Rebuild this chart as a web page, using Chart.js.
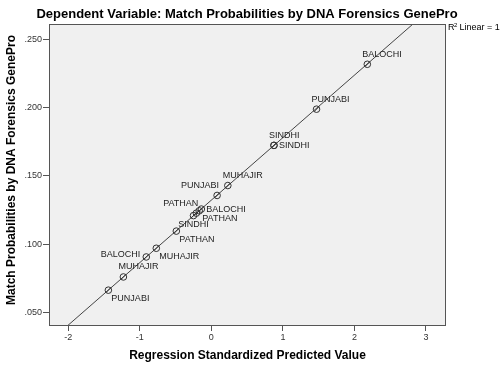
<!DOCTYPE html>
<html>
<head>
<meta charset="utf-8">
<script src="https://cdn.jsdelivr.net/npm/chart.js@4"></script>
<style>
  html, body { margin: 0; padding: 0; background: #fff; }
  #wrap { width: 500px; height: 368px; }
</style>
</head>
<body>
<div id="wrap"><canvas id="scatter" width="500" height="368"></canvas></div>
<script>
// values
const ethnicGroups = ['PUNJABI', 'MUHAJIR', 'BALOCHI', 'MUHAJIR', 'PATHAN', 'SINDHI', 'PATHAN', 'PATHAN',
  'BALOCHI', 'PUNJABI', 'MUHAJIR', 'SINDHI', 'SINDHI', 'PUNJABI', 'BALOCHI'];
const predictedValues = [-1.44, -1.23, -0.91, -0.77, -0.49, -0.25, -0.21, -0.17,
  -0.14, 0.08, 0.23, 0.875, 0.875, 1.47, 2.18];
const matchProbs = [0.0661, 0.0758, 0.0905, 0.0969, 0.1095, 0.1209, 0.1227, 0.1244,
  0.1257, 0.1357, 0.1430, 0.1725, 0.1725, 0.1991, 0.2321];
// where each point label sits relative to its marker
const labelSpots = ['br', 'ar', 'l', 'br', 'br', 'b', 'al', 'br', 'r', 'al', 'ar', 'ar', 'r', 'ar', 'ar'];

// fit line end points (R2 linear = 1)
const fitX = [-2.3, 3.3];
const fitY = [0.0267, 0.2838];

const xTickValues = [-2, -1, 0, 1, 2, 3];
const yTickValues = [0.05, 0.10, 0.15, 0.20, 0.25];

const FONT = '"Liberation Sans", Arial, sans-serif';
const spotStyles = {
  ar: { align: 'left', dx: -5, dy: -10 },
  al: { align: 'right', dx: 2, dy: -10 },
  br: { align: 'left', dx: 3, dy: 8 },
  b: { align: 'center', dx: 0, dy: 9 },
  l: { align: 'right', dx: -6, dy: -2 },
  r: { align: 'left', dx: 5, dy: 0 }
};

const spssDecor = {
  id: 'spssDecor',
  beforeDraw(chart) {
    const { ctx, chartArea: a } = chart;
    ctx.save();
    ctx.fillStyle = '#f0f0f0';
    ctx.fillRect(a.left, a.top, a.right - a.left, a.bottom - a.top);
    ctx.restore();
  },
  afterDatasetsDraw(chart) {
    const { ctx, chartArea: a } = chart;
    const meta = chart.getDatasetMeta(0);
    ctx.save();
    // slash through each marker
    ctx.strokeStyle = '#333';
    ctx.lineWidth = 1;
    meta.data.forEach(pt => {
      ctx.beginPath();
      ctx.moveTo(pt.x - 2.5, pt.y + 2.5);
      ctx.lineTo(pt.x + 2.5, pt.y - 2.5);
      ctx.stroke();
    });
    // point labels
    ctx.fillStyle = '#222';
    ctx.font = '9px ' + FONT;
    ctx.textBaseline = 'middle';
    meta.data.forEach((pt, i) => {
      const s = spotStyles[labelSpots[i]];
      ctx.textAlign = s.align;
      ctx.fillText(ethnicGroups[i], pt.x + s.dx, pt.y + s.dy);
    });
    // plot frame
    ctx.strokeStyle = '#555';
    ctx.strokeRect(a.left + 0.5, a.top + 0.5, a.right - a.left - 1, a.bottom - a.top);
    ctx.restore();
  },
  afterDraw(chart) {
    const { ctx, chartArea: a } = chart;
    ctx.save();
    ctx.fillStyle = '#000';
    ctx.textBaseline = 'middle';
    ctx.textAlign = 'center';
    ctx.font = 'bold 13px ' + FONT;
    ctx.fillText('Dependent Variable: Match Probabilities by DNA Forensics GenePro', 247, 14);
    ctx.font = 'bold 12px ' + FONT;
    ctx.fillText('Regression Standardized Predicted Value', (a.left + a.right) / 2, 356);
    ctx.translate(12, 170);
    ctx.rotate(-Math.PI / 2);
    ctx.fillText('Match Probabilities by DNA Forensics GenePro', 0, 0);
    ctx.restore();
    // R² legend text
    ctx.save();
    ctx.fillStyle = '#000';
    ctx.textBaseline = 'middle';
    ctx.textAlign = 'left';
    ctx.font = '9px ' + FONT;
    ctx.fillText('R', a.right + 2, 28);
    ctx.font = '6px ' + FONT;
    ctx.fillText('2', a.right + 8, 25);
    ctx.font = '9px ' + FONT;
    ctx.fillText(' Linear = 1', a.right + 11, 28);
    ctx.restore();
  }
};

const ctx = document.getElementById('scatter').getContext('2d');
const chart = new Chart(ctx, {
  type: 'scatter',
  data: {
    datasets: [{
      data: predictedValues.map((x, i) => ({ x: x, y: matchProbs[i] })),
      pointStyle: 'circle',
      pointRadius: 3.3,
      pointBorderWidth: 1,
      pointBorderColor: '#333',
      pointBackgroundColor: 'rgba(0,0,0,0)',
      showLine: false
    }, {
      type: 'line',
      data: fitX.map((x, i) => ({ x: x, y: fitY[i] })),
      borderColor: '#444',
      borderWidth: 1,
      pointRadius: 0,
      fill: false
    }]
  },
  options: {
    responsive: false,
    animation: false,
    layout: { padding: { top: 24, right: 54, left: 0, bottom: 0 } },
    plugins: {
      legend: { display: false },
      tooltip: { enabled: false }
    },
    scales: {
      x: {
        type: 'linear',
        min: -2.27,
        max: 3.28,
        afterBuildTicks: scale => { scale.ticks = xTickValues.map(v => ({ value: v })); },
        afterFit: scale => { scale.height = 43; },
        grid: { drawOnChartArea: false, tickLength: 6, color: '#555' },
        border: { display: false },
        ticks: {
          color: '#333',
          font: { family: FONT, size: 9 },
          padding: 1,
          callback: v => String(v)
        }
      },
      y: {
        type: 'linear',
        min: 0.0405,
        max: 0.2617,
        afterBuildTicks: scale => { scale.ticks = yTickValues.map(v => ({ value: v })); },
        afterFit: scale => { scale.width = 49; },
        grid: { drawOnChartArea: false, tickLength: 6, color: '#555' },
        border: { display: false },
        ticks: {
          color: '#333',
          font: { family: FONT, size: 9 },
          padding: 1,
          callback: v => v.toFixed(3).replace(/^0/, '')
        }
      }
    }
  },
  plugins: [spssDecor]
});
</script>
</body>
</html>
